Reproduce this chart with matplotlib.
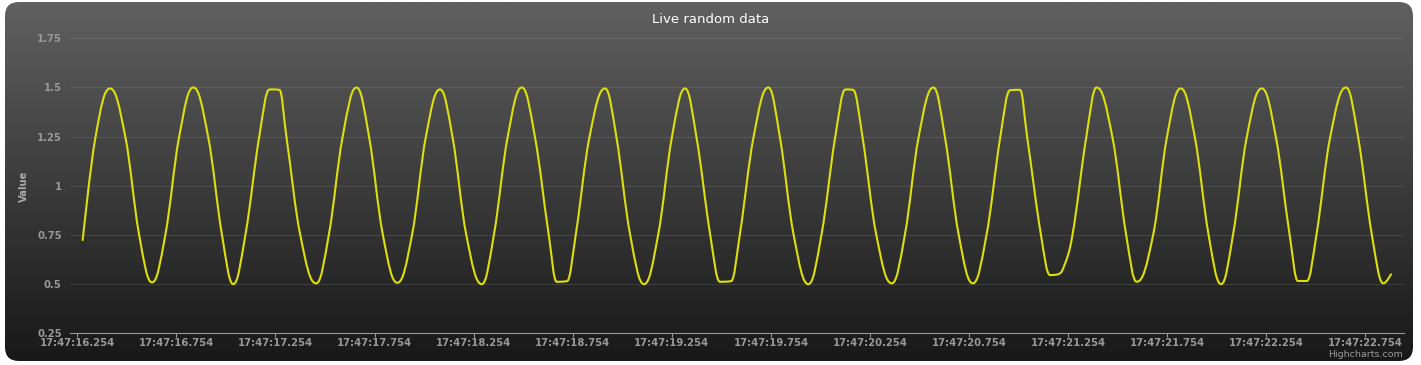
import matplotlib
matplotlib.use('Agg')
import matplotlib.pyplot as plt
import numpy as np
from matplotlib.patches import FancyBboxPatch, PathPatch
from matplotlib.path import Path

# seconds after 17:47:00
seconds = [16.281, 16.346, 16.419,
           16.496, 16.566, 16.631, 16.698, 16.768, 16.839,
           16.914, 16.984, 17.041, 17.102, 17.172, 17.224, 17.274,
           17.309, 17.379, 17.459, 17.523, 17.593, 17.663,
           17.726, 17.796, 17.869, 17.943, 18.013, 18.084,
           18.147, 18.217, 18.295, 18.356, 18.426, 18.497,
           18.563, 18.633, 18.673, 18.725, 18.769, 18.839, 18.917,
           18.974, 19.044, 19.114, 19.185, 19.255, 19.321,
           19.378, 19.448, 19.497, 19.553, 19.597, 19.667, 19.741,
           19.799, 19.869, 19.943, 20.009, 20.079, 20.131, 20.168,
           20.216, 20.286, 20.364, 20.430, 20.500, 20.574,
           20.632, 20.702, 20.773, 20.842, 20.912, 20.961, 21.011,
           21.047, 21.117, 21.163, 21.203, 21.233, 21.276, 21.346, 21.398,
           21.477, 21.547, 21.600, 21.683, 21.753, 21.822,
           21.893, 21.963, 22.026, 22.086, 22.156, 22.231,
           22.302, 22.372, 22.414, 22.458, 22.507, 22.577, 22.656,
           22.717, 22.787, 22.845, 22.883]
values = [0.724, 1.25, 1.495,
          1.25, 0.75, 0.509, 0.75, 1.25, 1.5,
          1.25, 0.75, 0.5, 0.75, 1.25, 1.49, 1.488,
          1.25, 0.75, 0.504, 0.75, 1.25, 1.5,
          1.25, 0.75, 0.507, 0.75, 1.25, 1.49,
          1.25, 0.75, 0.5, 0.75, 1.25, 1.5,
          1.25, 0.75, 0.512, 0.515, 0.75, 1.25, 1.495,
          1.25, 0.75, 0.5, 0.75, 1.25, 1.495,
          1.25, 0.75, 0.512, 0.515, 0.75, 1.25, 1.5,
          1.25, 0.75, 0.5, 0.75, 1.25, 1.49, 1.488,
          1.25, 0.75, 0.504, 0.75, 1.25, 1.5,
          1.25, 0.75, 0.504, 0.75, 1.25, 1.486, 1.488,
          1.25, 0.75, 0.546, 0.55, 0.59, 0.75, 1.25, 1.5,
          1.25, 0.75, 0.512, 0.75, 1.25, 1.495,
          1.25, 0.75, 0.5, 0.75, 1.25, 1.495,
          1.25, 0.75, 0.516, 0.516, 0.75, 1.25, 1.5,
          1.25, 0.75, 0.504, 0.55]

xtick_pos = [16.254 + 0.5 * k for k in range(14)]
xtick_labels = ['17:47:16.254', '17:47:16.754', '17:47:17.254', '17:47:17.754',
                '17:47:18.254', '17:47:18.754', '17:47:19.254', '17:47:19.754',
                '17:47:20.254', '17:47:20.754', '17:47:21.254', '17:47:21.754',
                '17:47:22.254', '17:47:22.754']
ytick_pos = [0.25, 0.5, 0.75, 1.0, 1.25, 1.5, 1.75]
ytick_labels = ['0.25', '0.5', '0.75', '1', '1.25', '1.5', '1.75']


def spline_path(xs, ys, smoothing=1.5):
  # bezier control points the way highcharts builds its spline
  n = len(xs)
  denom = smoothing + 1
  left = [(xs[i], ys[i]) for i in range(n)]
  right = [(xs[i], ys[i]) for i in range(n)]
  for i in range(1, n - 1):
    px, py = xs[i], ys[i]
    lx, ly = xs[i - 1], ys[i - 1]
    nx, ny = xs[i + 1], ys[i + 1]
    lcx = (smoothing * px + lx) / denom
    lcy = (smoothing * py + ly) / denom
    rcx = (smoothing * px + nx) / denom
    rcy = (smoothing * py + ny) / denom
    corr = 0
    if rcx != lcx:
      corr = ((rcy - lcy) * (rcx - px)) / (rcx - lcx) + py - rcy
    lcy += corr
    rcy += corr
    if lcy > ly and lcy > py:
      lcy = max(ly, py)
      rcy = 2 * py - lcy
    elif lcy < ly and lcy < py:
      lcy = min(ly, py)
      rcy = 2 * py - lcy
    if rcy > ny and rcy > py:
      rcy = max(ny, py)
      lcy = 2 * py - rcy
    elif rcy < ny and rcy < py:
      rcy = min(ny, py)
      lcy = 2 * py - rcy
    left[i] = (lcx, lcy)
    right[i] = (rcx, rcy)
  verts = [(xs[0], ys[0])]
  codes = [Path.MOVETO]
  for i in range(1, n):
    verts += [right[i - 1], left[i], (xs[i], ys[i])]
    codes += [Path.CURVE4] * 3
  return Path(verts, codes)


W, H = 1421, 365
fig = plt.figure(figsize=(W / 100, H / 100), dpi=100, facecolor='white')

# card with vertical gradient
bg = fig.add_axes([0, 0, 1, 1])
bg.set_xlim(0, W)
bg.set_ylim(H, 0)
bg.axis('off')
card = FancyBboxPatch((5, 2), 1408, 359, boxstyle='round,pad=0,rounding_size=14',
                      facecolor='none', edgecolor='none')
bg.add_patch(card)
shade = np.linspace(96, 96 - 80 * 359 / 400, 200) / 255
grad = np.repeat(shade[:, None], 2, axis=1)
grad = np.dstack([grad, grad, grad])
im = bg.imshow(grad, extent=(5, 1413, 361, 2), aspect='auto', origin='upper',
               interpolation='bilinear')
im.set_clip_path(card)

ax = fig.add_axes([70 / W, (H - 333.3) / H, 1334 / W, 295 / H])
ax.set_facecolor('none')
ax.set_xlim(16.217, 22.949)
ax.set_ylim(0.25, 1.75)

ax.add_patch(PathPatch(spline_path(seconds, values), facecolor='none',
                       edgecolor='#DDDF0D', lw=1.5, capstyle='round', joinstyle='round'))

for s in ['top', 'right', 'left']:
  ax.spines[s].set_visible(False)
ax.spines['bottom'].set_color('#999999')
ax.spines['bottom'].set_linewidth(0.8)

ax.set_yticks(ytick_pos)
ax.set_yticklabels(ytick_labels)
ax.set_xticks(xtick_pos)
ax.set_xticklabels(xtick_labels)
ax.yaxis.grid(True, color='white', alpha=0.1, lw=0.8)
ax.set_axisbelow(True)
ax.tick_params(axis='y', length=0, pad=6, labelsize=7.2, labelcolor='#999999')
ax.tick_params(axis='x', length=3, width=0.8, color='#999999', pad=0.5,
               labelsize=7.2, labelcolor='#999999')
for lab in ax.get_xticklabels() + ax.get_yticklabels():
  lab.set_fontweight('bold')

fig.text(711 / W, (H - 19.5) / H, 'Live random data', color='white', fontsize=9.5,
         ha='center', va='center')
fig.text(24 / W, (H - 186) / H, 'Value', color='#AAAAAA', fontsize=7.2,
         fontweight='bold', rotation=90, ha='center', va='center')
fig.text(1403.3 / W, (H - 354.3) / H, 'Highcharts.com', color='#999999', fontsize=6.8,
         ha='right', va='center')

fig.savefig('out.png', dpi=100, facecolor='white')
